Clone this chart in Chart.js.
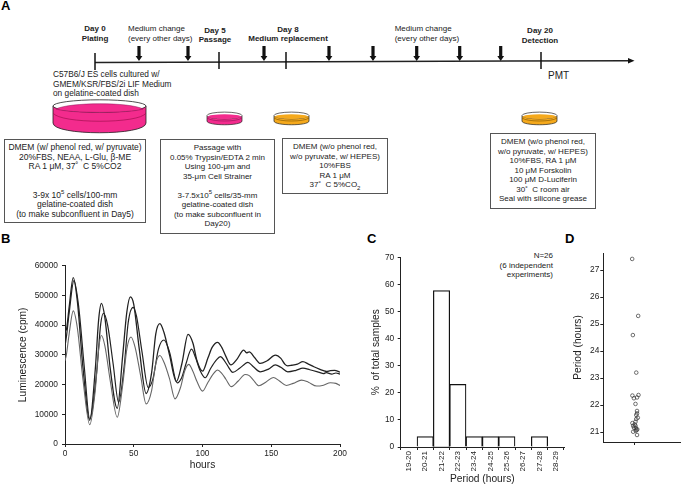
<!DOCTYPE html>
<html>
<head>
<meta charset="utf-8">
<title>Chart</title>
<script src="https://cdn.jsdelivr.net/npm/chart.js@4"></script>
<style>
  html, body { margin:0; padding:0; background:#fff; overflow:hidden; }
  body { width:685px; height:485px; position:relative; font-family:"Liberation Sans", Arial, sans-serif; color:#222; font-size:8px; line-height:9.55px; }
  canvas { position:absolute; }
  .t { position:absolute; white-space:nowrap; }
  .c { transform:translateX(-50%); text-align:center; }
  .b { font-weight:bold; }
  .letter { position:absolute; font-weight:bold; font-size:13px; line-height:14px; color:#000; }
  .box { position:absolute; box-sizing:border-box; border:1px solid #555; text-align:center; white-space:nowrap; background:#fff; }
  sup, sub { font-size:6px; line-height:0; }
  svg { position:absolute; left:0; top:0; }
</style>
</head>
<body>
<svg width="685" height="240">
  <!-- timeline -->
  <line x1="95" y1="62.5" x2="628" y2="60.7" stroke="#222" stroke-width="1.5"/>
  <path d="M628,58 L634.5,60.7 L628,63.4 Z" fill="#111"/>
  <g stroke="#111" stroke-width="1.5">
    <line x1="95" y1="53" x2="95" y2="70"/>
    <line x1="219" y1="52" x2="219" y2="69"/>
    <line x1="286" y1="52" x2="286" y2="69"/>
    <line x1="541" y1="52" x2="541" y2="69"/>
  </g>
  <g fill="#111" id="arrows"></g>
  <!-- big dish -->
  <path d="M53,106 L53,123 C53,136 146,136 146,123 L146,106 Z" fill="#f32b8d" stroke="#222" stroke-width="0.8"/>
  <ellipse cx="99.5" cy="106" rx="46.5" ry="6.2" fill="#fff" stroke="#222" stroke-width="0.8"/>
  <path d="M56,109 C70,102 130,102 143,109 C130,113.5 70,113.5 56,109 Z" fill="#f32b8d" stroke="#8a1555" stroke-width="0.5"/>
  <path d="M53,113 C60,124 140,124 146,113" fill="none" stroke="#a31050" stroke-width="0.7"/>
  <!-- small dishes -->
  <g id="dishes"></g>
</svg>

<div class="letter" style="left:1px;top:-1px">A</div>
<div class="letter" style="left:1px;top:232px">B</div>
<div class="letter" style="left:367px;top:232px">C</div>
<div class="letter" style="left:565px;top:232px">D</div>

<div class="t c b" style="left:95px;top:24px">Day 0<br>Plating</div>
<div class="t" style="left:128px;top:24px">Medium change<br>(every other days)</div>
<div class="t c b" style="left:215px;top:25.5px">Day 5<br>Passage</div>
<div class="t c b" style="left:288px;top:24.5px">Day 8<br>Medium replacement</div>
<div class="t" style="left:394.7px;top:24px">Medium change<br>(every other days)</div>
<div class="t c b" style="left:540px;top:26px">Day 20<br>Detection</div>
<div class="t" style="left:548px;top:70px;font-size:10px;line-height:11px">PMT</div>
<div class="t" style="left:53px;top:70px;font-size:8.3px">C57B6/J ES cells cultured w/<br>GMEM/KSR/FBS/2i LIF Medium<br>on gelatine-coated dish</div>

<div class="box" style="left:4px;top:139px;width:142px;height:84px;padding-top:3px;font-size:8.5px">
  DMEM (w/ phenol red, w/ pyruvate)<br>20%FBS, NEAA, L-Glu, β-ME<br>RA 1 μM, 37˚&nbsp; C 5%CO2<br><br><br>3-9x 10<sup>5</sup> cells/100-mm<br>gelatine-coated dish<br>(to make subconfluent in Day5)
</div>
<div class="box" style="left:160px;top:139px;width:115px;height:95px;padding-top:3px">
  Passage with<br>0.05% Trypsin/EDTA 2 min<br>Using 100-μm and<br>35-μm Cell Strainer<br><br>3-7.5x10<sup>5</sup> cells/35-mm<br>gelatine-coated dish<br>(to make subconfluent in<br>Day20)
</div>
<div class="box" style="left:282px;top:138px;width:106px;height:56px;padding-top:3px">
  DMEM (w/o phenol red,<br>w/o pyruvate, w/ HEPES)<br>10%FBS<br>RA 1 μM<br>37˚&nbsp; C 5%CO<sub>2</sub>
</div>
<div class="box" style="left:490px;top:133px;width:106px;height:76px;padding-top:3px">
  DMEM (w/o phenol red,<br>w/o pyruvate, w/ HEPES)<br>10%FBS, RA 1 μM<br>10 μM Forskolin<br>100 μM D-Luciferin<br>30˚&nbsp; C room air<br>Seal with silicone grease
</div>

<div class="t" style="right:132px;top:251px;text-align:right;font-size:8px;line-height:9.7px">N=26<br>(6 independent<br>experiments)</div>

<canvas id="chartB" width="355" height="230" style="left:0;top:255px"></canvas>
<canvas id="chartC" width="215" height="240" style="left:360px;top:245px"></canvas>
<canvas id="chartD" width="120" height="207" style="left:565px;top:245px"></canvas>

<script>
// --- Panel A schematic positions ---
const feedArrows = [139, 188, 264, 329, 373, 416.7, 459.7, 500.7];
const smallDishes = [
  { x:207, y:112, fill:'#f32b8d', rim:'#8a1555' },
  { x:274, y:112, fill:'#f5a91c', rim:'#7a5200' },
  { x:522, y:111, fill:'#f5a91c', rim:'#7a5200' }
];
document.getElementById('arrows').innerHTML = feedArrows.map(x =>
  `<path d="M${x-1.6},46 h3.2 v10 h1.8 L${x},61 L${x-3.4},56 h1.8 Z"/>`).join('');
document.getElementById('dishes').innerHTML = smallDishes.map(d => `
  <path d="M${d.x},116 v5 C${d.x},126 ${d.x+35},126 ${d.x+35},121 v-5 Z" fill="${d.fill}" stroke="#222" stroke-width="0.7"/>
  <ellipse cx="${d.x+17.5}" cy="115.5" rx="17.5" ry="3.4" fill="#fff" stroke="#222" stroke-width="0.7"/>
  <ellipse cx="${d.x+17.5}" cy="116.6" rx="16.5" ry="2.4" fill="${d.fill}"/>
  <path d="M${d.x},118 C${d.x+5},122 ${d.x+30},122 ${d.x+35},118" fill="none" stroke="${d.rim}" stroke-width="0.6"/>`).join('');

// --- Panel B data (hours, cpm) ---
const hoursA = [0, 1, 3, 6, 9, 13, 18, 22, 24.5, 26.5, 29, 33, 38, 42, 45, 47.5, 50, 54, 59, 63, 66, 69, 72, 76, 81, 85, 89.5, 93, 96, 100, 104, 107, 111, 114, 117, 120.7, 125, 130, 132, 134, 138, 142, 147, 153, 157, 160, 162, 165, 169, 173, 177, 181, 185, 188, 190, 193, 196, 200];
const lumiA  = [38000, 38500, 46000, 56000, 48000, 26000, 8000, 25000, 42000, 47300, 42500, 25000, 12000, 30000, 44500, 49500, 47000, 32000, 17000, 24000, 37000, 40500, 37500, 30000, 21000, 27000, 36900, 34000, 28000, 24500, 29000, 32500, 34200, 32500, 29500, 26600, 28500, 31600, 30700, 31000, 29000, 27100, 28000, 29900, 28800, 26800, 26300, 26500, 26900, 27700, 26900, 26000, 25200, 24700, 24400, 24700, 24800, 24200];
const hoursB = [0, 1, 3, 6.5, 10, 14, 18, 23, 26, 28, 31, 35, 39, 43, 46, 49.5, 52, 56, 60.5, 64, 68, 72, 76, 81.6, 85, 88, 92, 95, 98, 102, 106, 110, 113, 116, 119, 122, 127, 131, 133, 137, 142, 148, 153, 157, 162, 168, 173, 178, 185, 188, 190, 194, 197, 200];
const lumiB  = [33000, 36000, 44000, 55000, 46000, 26000, 8500, 24000, 40500, 44000, 40000, 27000, 14000, 26000, 41000, 46000, 43000, 31000, 19000, 22000, 32000, 35000, 31000, 20600, 22500, 27000, 31900, 29000, 25000, 22300, 25500, 28200, 29400, 28000, 25800, 24100, 25500, 27000, 27500, 26000, 24300, 25200, 26600, 25800, 24300, 24800, 25500, 25000, 24100, 23700, 24000, 23500, 23900, 23500];
const hoursC = [0, 1, 3, 6, 9, 13, 18, 22, 24.5, 26.5, 29, 33, 38, 42, 45, 48, 51, 55, 59, 63, 66, 69, 72, 76, 80, 84, 87, 90, 93, 96, 100, 104, 108, 111, 114, 117, 121, 126, 131, 134, 137, 141, 146, 151.5, 156, 161, 166, 172, 177, 183, 188, 193, 197, 200];
const lumiC  = [28000, 30000, 37000, 44800, 39000, 22000, 6500, 18000, 32000, 36500, 33000, 21000, 9000, 20000, 32000, 36000, 32500, 23000, 13500, 18000, 27000, 29800, 27500, 22000, 15200, 19000, 24500, 26800, 24500, 21000, 17800, 20800, 23700, 24900, 23800, 21800, 19300, 21200, 23400, 23000, 21500, 19600, 20800, 22400, 21200, 19700, 20400, 21500, 20800, 19500, 19800, 20600, 20400, 19700];
const xTicksB = [0, 50, 100, 150, 200];
const yTicksB = [0, 10000, 20000, 30000, 40000, 50000, 60000];

// --- Panel C data ---
const periodBins = ['19-20','20-21','21-22','22-23','23-24','24-25','25-26','26-27','27-28','28-29'];
const percentSamples = [0, 3.85, 57.7, 23.1, 3.85, 3.85, 3.85, 0, 3.85, 0];
const yTicksC = [0, 10, 20, 30, 40, 50, 60, 70];

// --- Panel D data ---
const jitterD = [0.967, 1.045, 0.976, 1.02, 0.97, 1.049, 0.99, 1.03, 1.01, 1.03, 1.03, 1.04, 1.02, 1.01, 0.97, 0.98, 1.01, 0.99, 1.016, 1.033, 0.98, 1.012, 1.03, 1.02, 1.0, 1.025];
const periodD = [27.41, 25.30, 24.59, 23.2, 22.35, 22.37, 22.25, 22.28, 22.04, 21.78, 21.69, 21.53, 21.48, 21.38, 21.33, 21.23, 21.23, 21.16, 21.14, 21.1, 21.01, 21.05, 20.89, 21.63, 21.28, 21.07];
const yTicksD = [21, 22, 23, 24, 25, 26, 27];

// --- Helpers ---
const zip = (xs, ys) => xs.map((x, i) => ({ x, y: ys[i] }));
const fixedTicks = vals => axis => { axis.ticks = vals.map(value => ({ value })); };
const plain = v => String(v);
const tickFont = { family:'"Liberation Sans"', size:8.4 };
function axisStyle(pad, extra) {
  return Object.assign({
    border: { color:'#222', width:1 },
    grid: { drawOnChartArea:false, drawTicks:true, tickLength:3, color:'#222' },
    ticks: { font:tickFont, color:'#222', padding:pad, autoSkip:false, maxRotation:0, callback:plain }
  }, extra);
}
function axisTitle(text) {
  return { display:true, text, color:'#222', padding:0, font:{ family:'"Liberation Sans"', size:10.2 } };
}
const baseOptions = {
  responsive:false, animation:false, maintainAspectRatio:false,
  plugins:{ legend:{ display:false }, tooltip:{ enabled:false } }
};

// --- Panel B ---
function trace(xs, ys, color, width) {
  return { data:zip(xs, ys), borderColor:color, borderWidth:width, pointRadius:0, cubicInterpolationMode:'monotone', fill:false };
}
new Chart(document.getElementById('chartB'), {
  type:'line',
  data:{ datasets:[
    trace(hoursC, lumiC, '#666', 1.1),
    trace(hoursB, lumiB, '#222', 1.2),
    trace(hoursA, lumiA, '#222', 1.3)
  ]},
  options:Object.assign({}, baseOptions, {
    layout:{ padding:{ left:17, right:15, top:10.7, bottom:13.5 } },
    scales:{
      x:axisStyle(2, { type:'linear', min:0, max:200, afterBuildTicks:fixedTicks(xTicksB),
        afterFit:a => { a.height = 27.5; }, title:axisTitle('hours') }),
      y:axisStyle(4, { min:0, max:60000, afterBuildTicks:fixedTicks(yTicksB),
        afterFit:a => { a.width = 48; }, title:axisTitle('Luminescence (cpm)') })
    }
  })
});

// --- Panel C ---
new Chart(document.getElementById('chartC'), {
  type:'bar',
  data:{ labels:periodBins, datasets:[{ data:percentSamples, backgroundColor:'#fff', borderColor:'#111', borderWidth:1.2, barPercentage:1, categoryPercentage:1 }] },
  options:Object.assign({}, baseOptions, {
    layout:{ padding:{ left:10, right:11, top:12.3, bottom:0 } },
    scales:{
      x:axisStyle(1, { ticks:{ font:{ family:'"Liberation Sans"', size:8 }, color:'#222', padding:1, autoSkip:false, minRotation:90, maxRotation:90 },
        afterFit:a => { a.height = 38; }, title:axisTitle('Period (hours)') }),
      y:axisStyle(3.5, { min:0, max:70, afterBuildTicks:fixedTicks(yTicksC),
        afterFit:a => { a.width = 30.7; }, title:axisTitle('%  of total samples') })
    }
  })
});

// --- Panel D ---
new Chart(document.getElementById('chartD'), {
  type:'scatter',
  data:{ datasets:[{ data:zip(jitterD, periodD), pointRadius:1.8, borderWidth:0.7, borderColor:'#333', backgroundColor:'rgba(255,255,255,0)' }] },
  options:Object.assign({}, baseOptions, {
    layout:{ padding:{ left:7, right:0, top:8, bottom:0 } },
    scales:{
      x:axisStyle(0, { type:'linear', min:0.592, max:1.592, afterBuildTicks:fixedTicks([1]),
        ticks:{ display:true, font:tickFont, callback:() => '' },
        afterFit:a => { a.height = 10; } }),
      y:axisStyle(1, { min:20.63, max:27.63, afterBuildTicks:fixedTicks(yTicksD),
        afterFit:a => { a.width = 31.3; }, title:axisTitle('Period (hours)') })
    }
  })
});
</script>
</body>
</html>
